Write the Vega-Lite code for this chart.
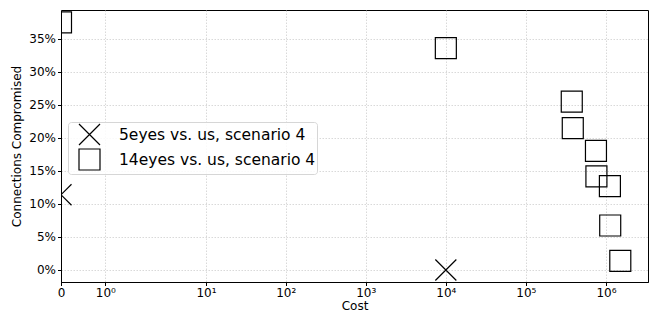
{
  "$schema": "https://vega.github.io/schema/vega-lite/v6.json",
  "width": 587,
  "height": 272,
  "autosize": {"type": "none"},
  "padding": {"left": 61, "top": 10, "right": 5, "bottom": 32},
  "background": "white",
  "config": {
    "font": "DejaVu Sans",
    "view": {"stroke": "black", "strokeWidth": 1},
    "axis": {
      "domainColor": "black",
      "tickColor": "black",
      "tickSize": 3.5,
      "labelFontSize": 12,
      "titleFontSize": 12,
      "titleFontWeight": "normal",
      "labelColor": "black",
      "titleColor": "black",
      "gridColor": "#cfcfcf",
      "gridDash": [1.5, 1.5],
      "gridWidth": 0.8
    }
  },
  "data": {
    "values": [
      {"series": "5eyes vs. us, scenario 4", "cost": 0, "compromised": 0.114},
      {"series": "5eyes vs. us, scenario 4", "cost": 10000, "compromised": 0.0},
      {"series": "14eyes vs. us, scenario 4", "cost": 0, "compromised": 0.375},
      {"series": "14eyes vs. us, scenario 4", "cost": 10000, "compromised": 0.336},
      {"series": "14eyes vs. us, scenario 4", "cost": 374000, "compromised": 0.255},
      {"series": "14eyes vs. us, scenario 4", "cost": 385000, "compromised": 0.215},
      {"series": "14eyes vs. us, scenario 4", "cost": 750000, "compromised": 0.1806},
      {"series": "14eyes vs. us, scenario 4", "cost": 760000, "compromised": 0.1417},
      {"series": "14eyes vs. us, scenario 4", "cost": 1120000, "compromised": 0.127},
      {"series": "14eyes vs. us, scenario 4", "cost": 1130000, "compromised": 0.0674},
      {"series": "14eyes vs. us, scenario 4", "cost": 1510000, "compromised": 0.0139}
    ]
  },
  "mark": {"type": "point", "filled": false, "clip": true, "strokeWidth": 1.2, "size": 441, "color": "black", "opacity": 1},
  "encoding": {
    "x": {
      "field": "cost",
      "type": "quantitative",
      "title": "Cost",
      "scale": {"type": "symlog", "constant": 0.1, "domain": [0, 1, 10, 3350000], "range": [0, 44.4, 145, 587], "nice": false, "zero": false},
      "axis": {
        "values": [0, 1, 10, 100, 1000, 10000, 100000, 1000000],
        "labelExpr": "datum.value == 0 ? '0' : datum.value == 1 ? '10⁰' : datum.value == 10 ? '10¹' : datum.value == 100 ? '10²' : datum.value == 1000 ? '10³' : datum.value == 10000 ? '10⁴' : datum.value == 100000 ? '10⁵' : '10⁶'",
        "labelFlush": false,
        "labelOverlap": false,
        "labelPadding": 2,
        "titlePadding": 2
      }
    },
    "y": {
      "field": "compromised",
      "type": "quantitative",
      "title": "Connections Compromised",
      "scale": {"domain": [-0.0182, 0.3939], "nice": false, "zero": false},
      "axis": {
        "values": [0, 0.05, 0.1, 0.15, 0.2, 0.25, 0.3, 0.35],
        "format": ".0%",
        "labelPadding": 2,
        "titlePadding": 5
      }
    },
    "shape": {
      "field": "series",
      "type": "nominal",
      "scale": {
        "domain": ["5eyes vs. us, scenario 4", "14eyes vs. us, scenario 4"],
        "range": ["M-1,-1L1,1M-1,1L1,-1", "square"]
      },
      "legend": {
        "title": null,
        "orient": "none",
        "legendX": 7,
        "legendY": 112,
        "symbolSize": 441,
        "symbolStrokeColor": "black",
        "symbolFillColor": "transparent",
        "symbolStrokeWidth": 1.2,
        "labelFontSize": 15.5,
        "labelColor": "black",
        "labelOffset": 18,
        "symbolOffset": 9,
        "rowPadding": -7,
        "padding": 1,
        "strokeColor": "#d6d6d6",
        "fillColor": "rgba(255,255,255,0.85)",
        "cornerRadius": 3,
        "labelLimit": 400
      }
    }
  }
}
